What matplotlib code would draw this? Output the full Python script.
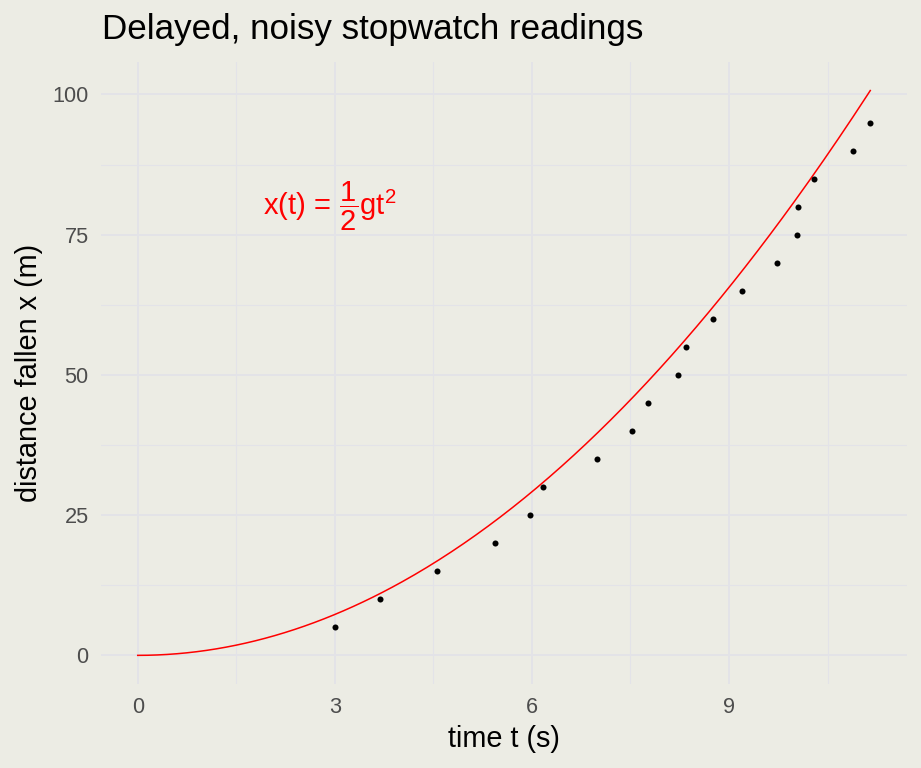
import matplotlib
matplotlib.use('Agg')
import matplotlib.pyplot as plt
import numpy as np

# stopwatch readings (s) and distance marks (m)
t_obs = [3.01, 3.69, 4.56, 5.44, 5.97, 6.17, 6.99, 7.53, 7.77, 8.23,
         8.35, 8.75, 9.20, 9.73, 10.03, 10.05, 10.30, 10.89, 11.15]
x_obs = [5, 10, 15, 20, 25, 30, 35, 40, 45, 50,
         55, 60, 65, 70, 75, 80, 85, 90, 95]
g = 1.62

x_ticks = [0, 3, 6, 9]
y_ticks = [0, 25, 50, 75, 100]

plt.rcParams['font.family'] = ['Liberation Sans', 'DejaVu Sans']
plt.rcParams['mathtext.fontset'] = 'custom'
plt.rcParams['mathtext.rm'] = 'Liberation Sans'
plt.rcParams['mathtext.it'] = 'Liberation Sans'

bg = '#ECECE4'
grid = '#E3E3E8'

W, H = 921, 768
fig = plt.figure(figsize=(W / 100, H / 100), dpi=100, facecolor=bg)
left, right, top, bottom = 101.1, 906.9, 62.3, 683.6
ax = fig.add_axes([left / W, 1 - bottom / H, (right - left) / W, (bottom - top) / H])
ax.set_facecolor(bg)

# curve x = 1/2 g t^2
tt = np.linspace(0, max(t_obs), 300)
ax.plot(tt, 0.5 * g * tt ** 2, color='#FF0000', lw=1.1, zorder=3)
ax.scatter(t_obs, x_obs, s=19, color='black', zorder=4, linewidths=0)

T = max(t_obs)
M = 0.5 * g * T ** 2
ax.set_xlim(-0.05 * T, 1.05 * T)
ax.set_ylim(-0.05 * M, 1.05 * M)

ax.set_xticks(x_ticks)
ax.set_yticks(y_ticks)
ax.set_xticks([1.5, 4.5, 7.5, 10.5], minor=True)
ax.set_yticks([12.5, 37.5, 62.5, 87.5], minor=True)
ax.grid(True, which='major', color=grid, lw=1.4)
ax.grid(True, which='minor', color=grid, lw=0.8)
ax.set_axisbelow(True)
ax.tick_params(which='both', length=0, labelsize=15.7, labelcolor='#4D4D4D')
ax.tick_params(axis='x', pad=10)
ax.tick_params(axis='y', pad=9)
for s in ax.spines.values():
    s.set_visible(False)

ax.set_xlabel('time t (s)', fontsize=20.8, labelpad=5)
ax.set_ylabel('distance fallen x (m)', fontsize=20.8, labelpad=7)
fig.text(102.5 / W, 1 - 30 / H, 'Delayed, noisy stopwatch readings',
         fontsize=25.2, va='center', ha='left')

ax.text(2.93, 80, r'$\mathrm{x(t)\,=\,\dfrac{1}{2}gt^2}$', color='#FF0000',
        fontsize=21, ha='center', va='center')

fig.savefig('out.png', dpi=100, facecolor=bg)
